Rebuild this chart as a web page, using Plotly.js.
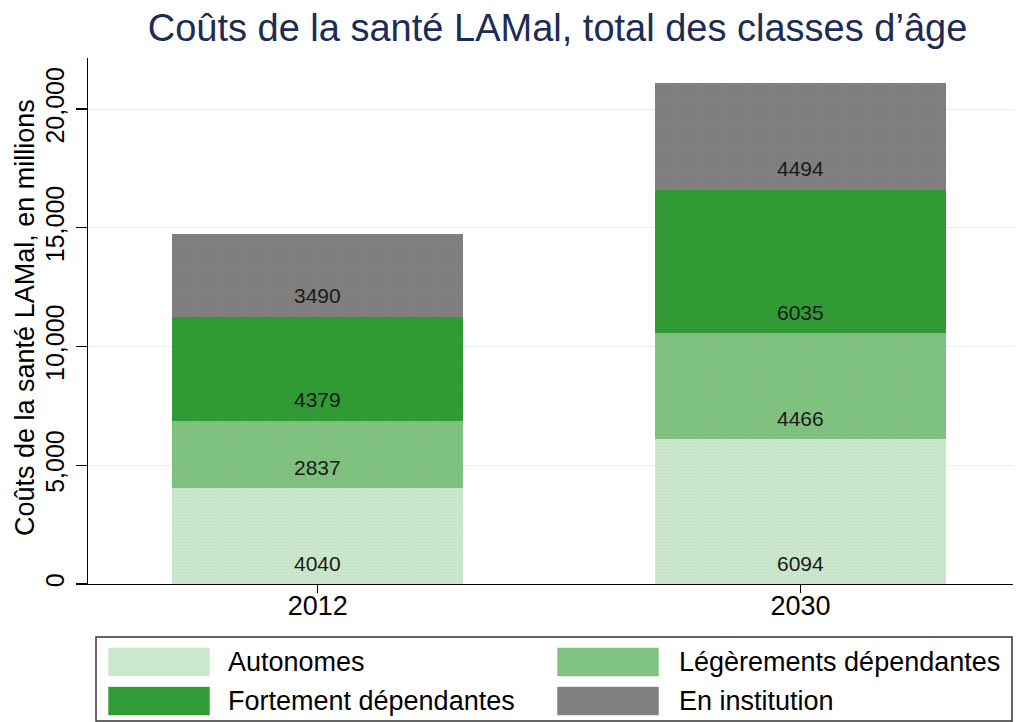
<!DOCTYPE html>
<html>
<head>
<meta charset="utf-8">
<script src="https://cdn.plot.ly/plotly-3.0.1.min.js"></script>
<style>html,body{margin:0;padding:0;background:#fff;}#chart{width:1018px;height:722px;}</style>
</head>
<body>
<div id="chart"></div>
<script>
const years = ["2012", "2030"];
const seriesNames = ["Autonomes", "Légèrements dépendantes", "Fortement dépendantes", "En institution"];
const autonomes = [4040, 6094];
const legerement = [2837, 4466];
const fortement = [4379, 6035];
const institution = [3490, 4494];
const colors = ["#cce8cc", "#80c27f", "#319b35", "#7f807f"];
const yTicks = [0, 5000, 10000, 15000, 20000];
const yTitle = "Coûts de la santé LAMal, en millions";
const chartTitle = "Coûts de la santé LAMal, total des classes d’âge";

const seriesValues = [autonomes, legerement, fortement, institution];
const FONT = '"Liberation Sans", Arial, Helvetica, sans-serif';

// pixel -> paper helpers (layout geometry only)
const L = 88, R = 1013, T = 58, B = 584;
const px = x => (x - L) / (R - L);
const py = y => (B - y) / (B - T);

const traces = seriesValues.map((vals, i) => ({
  type: "bar",
  name: seriesNames[i],
  x: years,
  y: vals,
  width: 0.603,
  marker: {
    color: colors[i], line: {width: 0},
    pattern: {shape: ".", size: 3, solidity: 0.15, fgcolor: "rgba(0,0,0,0.10)", bgcolor: colors[i], fillmode: "overlay"}
  },
  showlegend: false,
  hoverinfo: "skip"
}));

const annotations = [];
// value labels near the base of each segment
years.forEach((yr, j) => {
  let base = 0;
  seriesValues.forEach(vals => {
    annotations.push({
      x: j, y: base, xref: "x", yref: "y",
      text: String(vals[j]), showarrow: false,
      yshift: 21, yanchor: "middle", xanchor: "center",
      font: {family: FONT, size: 21, color: "#1a1a1a"}
    });
    base += vals[j];
  });
});

// y-axis title
annotations.push({
  xref: "paper", yref: "paper", x: px(25), y: py(318),
  xanchor: "center", yanchor: "middle", textangle: -90, showarrow: false,
  text: yTitle, font: {family: FONT, size: 27, color: "#000"}
});

// manual legend
const shapes = [{
  type: "rect", xref: "paper", yref: "paper",
  x0: px(96), x1: px(1012), y0: py(637), y1: py(721),
  line: {color: "#333", width: 1.5}, fillcolor: "rgba(0,0,0,0)", layer: "above"
}];
const legendPos = [
  {sx: 108, tx: 226, cy: 662},
  {sx: 557, tx: 677, cy: 662},
  {sx: 108, tx: 226, cy: 701},
  {sx: 557, tx: 677, cy: 701}
];
seriesNames.forEach((nm, i) => {
  const p = legendPos[i];
  shapes.push({
    type: "rect", xref: "paper", yref: "paper",
    x0: px(p.sx), x1: px(p.sx + 102), y0: py(p.cy - 14.5), y1: py(p.cy + 14.5),
    line: {color: "rgba(255,255,255,0.6)", width: 1}, fillcolor: colors[i]
  });
  annotations.push({
    xref: "paper", yref: "paper", x: px(p.tx), y: py(p.cy),
    xanchor: "left", yanchor: "middle", showarrow: false,
    text: nm, font: {family: FONT, size: 27, color: "#000"}
  });
});

const layout = {
  width: 1018, height: 722,
  margin: {l: L, r: 1018 - R, t: T, b: 722 - B, pad: 0},
  paper_bgcolor: "#fff", plot_bgcolor: "#fff",
  barmode: "stack",
  showlegend: false,
  font: {family: FONT, color: "#000"},
  title: {
    text: chartTitle,
    x: px(557.5), xref: "paper", xanchor: "center",
    y: 1 - 28 / 722, yref: "container", yanchor: "middle",
    font: {family: FONT, size: 38, color: "#1e2b55"}
  },
  xaxis: {
    type: "category",
    range: [-0.4757, 1.44],
    showgrid: false, zeroline: false,
    showline: true, linecolor: "#000", linewidth: 1.2,
    ticks: "outside", ticklen: 8, tickcolor: "#000", tickwidth: 1.2,
    ticklabelstandoff: -11,
    tickfont: {family: FONT, size: 27, color: "#000"}
  },
  yaxis: {
    range: [0, 22150],
    tickvals: yTicks, tickformat: ",",
    tickangle: -90,
    showgrid: true, gridcolor: "#e4eeee", gridwidth: 1,
    zeroline: false,
    showline: true, linecolor: "#000", linewidth: 1.2,
    ticks: "outside", ticklen: 11, tickcolor: "#000", tickwidth: 1.2,
    ticklabelstandoff: 2,
    tickfont: {family: FONT, size: 25, color: "#000"}
  },
  shapes: shapes,
  annotations: annotations
};

Plotly.newPlot("chart", traces, layout, {displayModeBar: false, staticPlot: true});
</script>
</body>
</html>
